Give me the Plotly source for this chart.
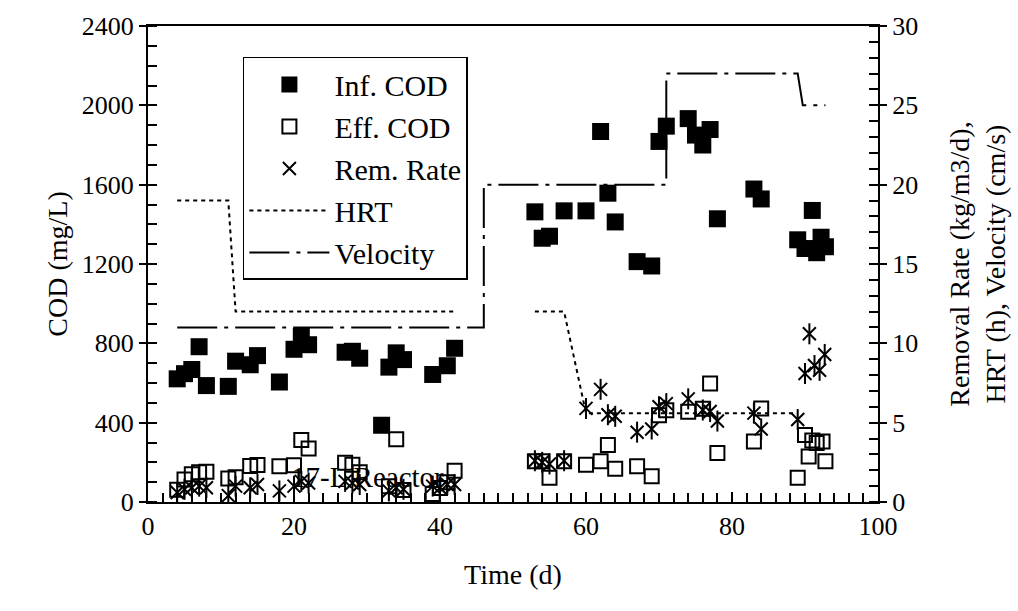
import plotly.graph_objects as go

# ---------------- data ----------------
inf_days = [4, 5, 6, 7, 8, 11, 12, 14, 15, 18, 20, 21, 22, 27, 28, 29, 32, 33, 34, 35,
            39, 41, 42, 53, 54, 55, 57, 60, 62, 63, 64, 67, 69, 70, 71, 74, 75, 76, 77,
            78, 83, 84, 89, 90, 91, 91.6, 92.2, 92.8]
inf_cod = [621, 647, 668, 783, 587, 583, 710, 692, 738, 605, 770, 835, 793, 755, 760, 725,
           387, 680, 752, 718, 643, 687, 775, 1463, 1330, 1340, 1468, 1468, 1868, 1557,
           1412, 1212, 1190, 1818, 1895, 1933, 1850, 1800, 1878, 1428, 1578, 1528, 1322,
           1278, 1470, 1257, 1335, 1287]

eff_days = [4, 5, 6, 7, 8, 11, 12, 14, 15, 18, 20, 21, 22, 27, 28, 29, 33, 34, 35, 39,
            40, 41, 42, 53, 54, 55, 57, 60, 62, 63, 64, 67, 69, 70, 71, 74, 76, 77, 78,
            83, 84, 89, 90, 90.5, 91, 91.6, 92.4, 92.8]
eff_cod = [62, 113, 140, 150, 153, 118, 125, 182, 187, 180, 185, 313, 270, 198, 188, 150,
           80, 317, 60, 40, 70, 100, 158, 205, 205, 122, 205, 188, 205, 288, 168, 180, 130,
           438, 463, 455, 470, 597, 247, 305, 472, 122, 338, 230, 310, 297, 305, 205]

rem_days = [4, 5, 6, 7, 8, 11, 12, 14, 15, 18, 20, 21, 22, 27, 28, 29, 33, 34, 35, 39,
            40, 41, 42, 53, 54, 55, 57, 60, 62, 63, 64, 67, 69, 70, 71, 74, 76, 77, 78,
            83, 84, 89, 90, 90.6, 91.3, 92, 92.7]
rem_rate = [0.6, 0.8, 0.9, 1.0, 0.9, 0.4, 1.0, 0.9, 1.1, 0.7, 1.0, 1.3, 1.2, 1.3, 1.2, 1.1,
            0.7, 0.9, 0.8, 1.0, 0.9, 1.1, 1.1, 2.6, 2.5, 2.4, 2.6, 5.9, 7.1, 5.5, 5.4, 4.4,
            4.6, 6.0, 6.2, 6.5, 5.8, 5.7, 5.1, 5.6, 4.6, 5.2, 8.1, 10.6, 8.6, 8.3, 9.3]

hrt_days = [4, 11, 12, 42, None, 53, 57, 60, 89]
hrt_h = [19, 19, 12, 12, None, 12, 12, 5.6, 5.6]

vel_days = [4, 46, 46, 71, 71, 89, 89.7, 92.8]
vel_cms = [11, 11, 20, 20, 27, 27, 25, 25]

annot_text = "17-L Reactor"
annot_day = 30
annot_cod = 125

FONT = "Liberation Serif, Times New Roman, serif"
FS = 26

fig = go.Figure()

fig.add_trace(go.Scatter(x=inf_days, y=inf_cod, mode="markers", name="Inf. COD",
                         legendgroup="a",
                         marker=dict(symbol="square", size=17, color="black")))
fig.add_trace(go.Scatter(x=eff_days, y=eff_cod, mode="markers", name="Eff. COD",
                         legendgroup="b",
                         marker=dict(symbol="square-open", size=14, color="black",
                                     line=dict(width=2, color="black"))))
fig.add_trace(go.Scatter(x=rem_days, y=rem_rate, mode="markers", name="Rem. Rate",
                         legendgroup="c", yaxis="y2",
                         marker=dict(symbol="x-thin-open", size=13, color="black",
                                     line=dict(width=2, color="black"))))
fig.add_trace(go.Scatter(x=rem_days, y=rem_rate, mode="markers", showlegend=False,
                         legendgroup="c", yaxis="y2",
                         marker=dict(symbol="line-ns-open", size=15, color="black",
                                     line=dict(width=2, color="black"))))
fig.add_trace(go.Scatter(x=hrt_days, y=hrt_h, mode="lines", name="HRT",
                         legendgroup="d", yaxis="y2", connectgaps=False,
                         line=dict(color="black", width=2, dash="4px,4px")))
fig.add_trace(go.Scatter(x=vel_days, y=vel_cms, mode="lines", name="Velocity",
                         legendgroup="e", yaxis="y2",
                         line=dict(color="black", width=2, dash="40px,7px,4px,7px")))

fig.add_annotation(x=annot_day, y=annot_cod, xref="x", yref="y", text=annot_text,
                   showarrow=False, font=dict(family=FONT, size=29, color="black"))

axis_common = dict(showgrid=False, zeroline=False, linecolor="black", linewidth=2,
                   tickcolor="black", tickwidth=2,
                   tickfont=dict(family=FONT, size=FS, color="black"))

overlay_common = dict(showticklabels=False, showline=False, showgrid=False,
                      zeroline=False, tickcolor="black", tickwidth=2,
                      ticks="outside", ticklen=7)

fig.update_layout(
    width=1018, height=611,
    margin=dict(l=148, r=140, t=22, b=109),
    paper_bgcolor="white", plot_bgcolor="white",
    font=dict(family=FONT, size=FS, color="black"),
    showlegend=True,
    legend=dict(x=0.130, y=0.935, xanchor="left", yanchor="top",
                bgcolor="white", bordercolor="black", borderwidth=1.5,
                font=dict(family=FONT, size=30, color="black"),
                itemwidth=80,
                traceorder="grouped", tracegroupgap=0),
    xaxis=dict(range=[0, 100], dtick=20, ticks="inside", ticklen=10,
               mirror=True, showline=True,
               minor=dict(dtick=2, ticks="inside", ticklen=9, tickwidth=1.5,
                          tickcolor="black"),
               title=dict(text="Time (d)", font=dict(family=FONT, size=28),
                          standoff=24),
               **axis_common),
    xaxis2=dict(range=[0, 100], dtick=20, overlaying="x", side="bottom",
                **overlay_common),
    yaxis=dict(range=[0, 2400], dtick=400, ticks="outside", ticklen=7,
               showline=True,
               minor=dict(dtick=100, ticks="inside", ticklen=9, tickwidth=1.5,
                          tickcolor="black"),
               title=dict(text="COD (mg/L)", font=dict(family=FONT, size=28),
                          standoff=6),
               **axis_common),
    yaxis3=dict(range=[0, 2400], dtick=400, overlaying="y", side="left",
                **dict(overlay_common, ticks="inside", ticklen=10)),
    yaxis2=dict(range=[0, 30], dtick=5, ticks="outside", ticklen=7,
                overlaying="y", side="right", showline=True,
                minor=dict(dtick=1, ticks="inside", ticklen=9, tickwidth=1.5,
                           tickcolor="black"),
                title=dict(text="Removal Rate (kg/m3/d),<br>HRT (h), Velocity (cm/s)",
                           font=dict(family=FONT, size=28), standoff=32),
                **axis_common),
    yaxis4=dict(range=[0, 30], dtick=5, overlaying="y", side="right",
                **dict(overlay_common, ticks="inside", ticklen=10)),
)

fig.write_html("out.html")
